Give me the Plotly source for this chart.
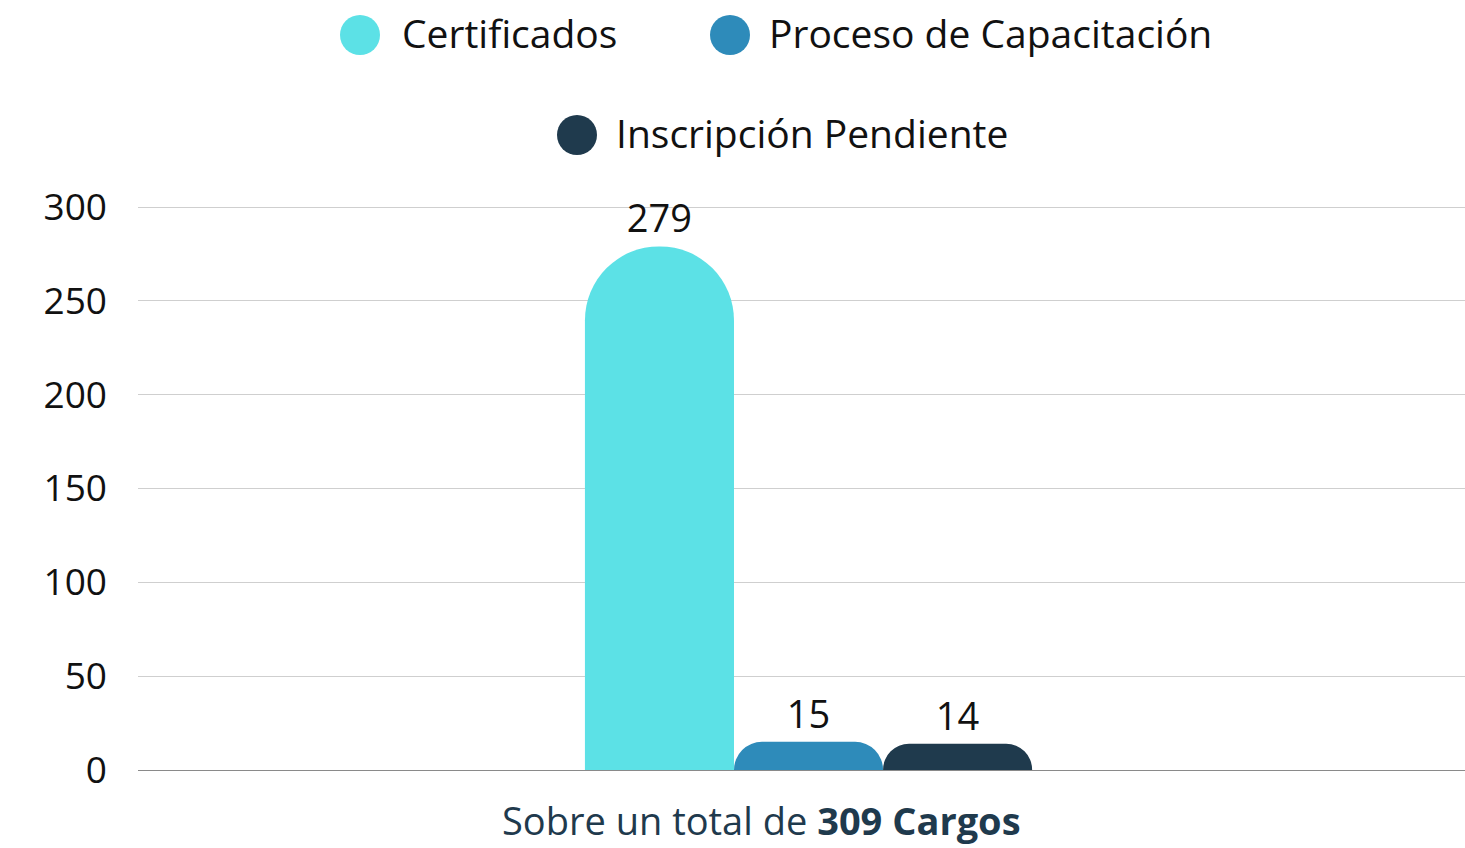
import plotly.graph_objects as go

categories = ["Cargos"]
series_names = ["Certificados", "Proceso de Capacitación", "Inscripción Pendiente"]
series_values = [[279], [15], [14]]
series_colors = ["#5ce1e6", "#2e8bba", "#1f3a4d"]
y_ticks = [0, 50, 100, 150, 200, 250, 300]
axis_title = "Sobre un total de <b>309 Cargos</b>"

FONT = "Open Sans"
W, H = 1465, 848
ML, MR, MT, MB = 138, 0, 203, 78
PW, PH = W - ML - MR, H - MT - MB
Y_TOP = 300 + 4 / (563 / 300)


def px_x(p):
    return (p - ML) / PW


def px_y(p):
    return (H - MB - p) / PH


fig = go.Figure()
for name, vals, col in zip(series_names, series_values, series_colors):
    fig.add_trace(go.Bar(
        x=categories, y=vals, name=name, showlegend=False,
        marker=dict(color=col, cornerradius="50%", line=dict(width=0)),
        text=[str(v) for v in vals], textposition="outside",
        textfont=dict(size=38, color="#111111", family=FONT),
        cliponaxis=False,
    ))

# custom legend (large circular swatches, centered rows)
legend_items = [
    (series_names[0], series_colors[0], 360, 400, 35),
    (series_names[1], series_colors[1], 730, 767, 35),
    (series_names[2], series_colors[2], 577, 614, 135),
]
shapes = []
annotations = []
for name, col, cx, tx, cy in legend_items:
    shapes.append(dict(type="circle", xref="paper", yref="paper",
                       xsizemode="pixel", ysizemode="pixel",
                       xanchor=px_x(cx), yanchor=px_y(cy),
                       x0=-20, x1=20, y0=-20, y1=20,
                       fillcolor=col, line=dict(width=0)))
    annotations.append(dict(text=name, xref="paper", yref="paper",
                            x=px_x(tx), y=px_y(cy - 2), xanchor="left", yanchor="middle",
                            showarrow=False,
                            font=dict(size=39, color="#111111", family=FONT)))

annotations.append(dict(text=axis_title, xref="paper", yref="paper",
                        x=px_x(761), y=px_y(820), xanchor="center", yanchor="middle",
                        showarrow=False,
                        font=dict(size=38, color="#1f3a4d", family=FONT)))

fig.update_layout(
    width=W, height=H,
    margin=dict(l=ML, r=MR, t=MT, b=MB),
    paper_bgcolor="white", plot_bgcolor="white",
    font=dict(family=FONT, size=36, color="#111111"),
    barmode="group", bargap=0.663, bargroupgap=0,
    showlegend=False,
    shapes=shapes, annotations=annotations,
    xaxis=dict(showticklabels=False, ticks="", showgrid=False, zeroline=False,
               showline=False, range=[-0.5053, 0.4947]),
    yaxis=dict(range=[0, Y_TOP], tickvals=y_ticks, ticktext=[str(t) for t in y_ticks],
               showgrid=True, gridcolor="#cfcfcf", gridwidth=1,
               zeroline=True, zerolinecolor="#8a8a8a", zerolinewidth=1,
               ticks="", ticklabelstandoff=30,
               tickfont=dict(size=37, color="#111111", family=FONT)),
)

fig.write_html("out.html")
